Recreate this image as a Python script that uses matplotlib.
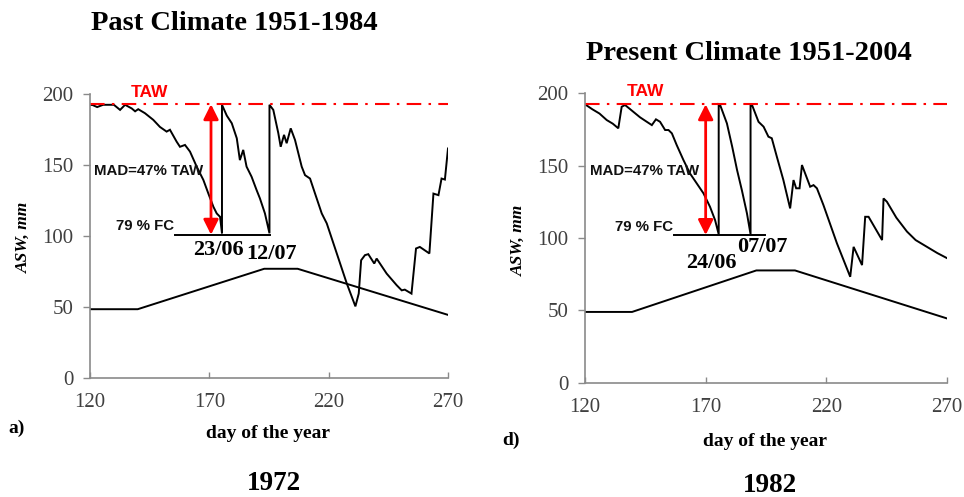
import matplotlib
matplotlib.use("Agg")
import matplotlib.pyplot as plt

# ---------------- data ----------------
past_day = [120, 121, 123, 125.5, 130, 132.6, 134.7, 137.5, 138.9, 140.2, 143, 146.5, 149.3,
            152.1, 153.5, 156.3, 157.7, 159.8, 161.9, 164.7, 167.5, 169.6, 171.7, 173.1, 174.5,
            175.3, 175.3, 177.3, 179.4, 181.5, 182.8, 184.2, 185.6, 187.7, 189.8, 191.2, 193.3,
            195.2, 195.2, 196.8, 198.9, 199.9, 201.3, 202.4, 204.1, 205.9, 208.7, 210.1, 212.2,
            214.3, 217.1, 219.2, 223.4, 227.6, 231.2, 232.6, 233.6, 235.2, 236.6, 239.1, 240.1,
            244.3, 248.5, 250.6, 251.9, 254.7, 256.6, 258.2, 262.2, 263.9, 266.0, 267.3, 268.7, 270]
past_asw = [192.5, 192.5, 191, 192.6, 192.6, 189, 192.6, 190, 188, 189.5, 186.7, 182, 177,
            173.7, 175, 166.6, 163, 164.3, 159.6, 149, 139.6, 130, 120.7, 116, 113.6,
            102, 192.6, 185, 179.6, 169, 153.6, 160.8, 149, 141.9, 132.5, 126.6, 116,
            102, 192.6, 189, 172.6, 163, 171.4, 165.5, 176, 167.8, 149, 143, 140.6,
            130, 116, 109, 87.8, 66.6, 50.5, 59.5, 83, 86.6, 87.3, 80.7, 84.2,
            73.6, 65.4, 61.8, 62.3, 59.5, 91.3, 92.4, 87.8, 130, 128.9, 140.6, 139.9, 161.8]
past_thr_day = [120, 140, 193, 207, 270]
past_thr = [48.5, 48.5, 77, 77, 44.5]

pres_day = [120, 123, 126, 129, 131.5, 133.8, 135.2, 136.6, 142.8, 145.6, 147.7, 149.4, 151.1,
            153.2, 154.6, 156, 158, 160.8, 163.5, 166.3, 169.1, 171.8, 173.9, 175.4,
            175.4, 176, 178.8, 181, 183, 185, 187.1, 188.6,
            188.6, 189.1, 191.9, 194, 196, 197.4, 199.5, 202.2, 205, 206.4, 207.5, 208.9,
            209.9, 213.3, 214.7, 216.1, 218.8, 224.4, 229.9, 231.3, 234.8, 236.1, 237.5,
            243.1, 243.7, 245.1, 249, 253.4, 257, 261.7, 266, 270]
pres_asw = [192.4, 189, 186, 181.5, 179, 175.8, 190.7, 191.9, 183.4, 180.3, 178, 182, 180.3,
            174.6, 174.6, 172.3, 164.2, 153.8, 144.6, 137.7, 130.8, 121.5, 112.3, 102.5,
            192.4, 191.9, 179.2, 163, 147, 133, 117, 102.5,
            192.4, 192.4, 180.3, 176.9, 170, 168.9, 156.1, 140, 120.4, 140, 134.3, 134.3,
            150.4, 135.4, 136.5, 134.3, 122.7, 96.2, 73.1, 93.8, 81.2, 114.6, 114.6,
            98.5, 127.3, 125, 114, 104.4, 98.5, 93.8, 89.5, 86]
pres_thr_day = [120, 139.5, 191, 207, 270]
pres_thr = [48.8, 48.8, 77.5, 77.5, 44.3]

taw_level = [193, 192.4]
fc_level = [101, 102]
fc_span = [(155.6, 195.4), (157, 194.7)]
arrow_day = [170.7, 170]
refill_labels = [("23/06", 173.7, 90), ("12/07", 196.1, 87.3)], [("24/06", 172.3, 82.3), ("07/07", 193.3, 93.5)]
titles = ["Past Climate 1951-1984", "Present Climate 1951-2004"]
years = ["1972", "1982"]
panel_tags = ["a)", "d)"]

# ---------------- figure ----------------
W, H = 964, 497
fig = plt.figure(figsize=(W / 100, H / 100), dpi=100)
SERIF = ["Liberation Serif", "DejaVu Serif"]
SANS = ["Liberation Sans", "DejaVu Sans"]

def fx(px):
    return px / W

def fy(py):
    return 1 - py / H

axes_px = [(90, 94.3, 448, 378), (585, 93.3, 947, 382.5)]
ylabel_px = [(24, 237), (519, 240)]
xlabel_px = [(268, 433), (765, 442)]
title_px = [(234, 23), (749, 53)]
year_px = [(274, 483), (770, 485)]
tag_px = [(8, 428), (502, 440)]

data = [(past_day, past_asw, past_thr_day, past_thr), (pres_day, pres_asw, pres_thr_day, pres_thr)]

for i in range(2):
    l, t, r, b = axes_px[i]
    ax = fig.add_axes([fx(l), fy(b), fx(r) - fx(l), fy(t) - fy(b)])
    d, v, td, tv = data[i]
    ax.plot(d, v, color="black", lw=1.4, solid_joinstyle="miter")
    ax.plot(td, tv, color="black", lw=1.4)
    ax.axhline(taw_level[i], color="red", lw=1.5, linestyle=(0, (7, 3.5, 1.2, 3.5)))
    ax.plot(fc_span[i], [fc_level[i]] * 2, color="black", lw=1.4)
    ax.annotate("", xy=(arrow_day[i], fc_level[i]), xytext=(arrow_day[i], taw_level[i]),
                arrowprops=dict(arrowstyle="<|-|>,head_length=0.9,head_width=0.45",
                                color="red", lw=2, shrinkA=0, shrinkB=0))
    ax.text(145, 201.5, "TAW", color="red", fontsize=12.5, fontweight="bold",
            family=SANS, ha="center", va="center", clip_on=False)
    ax.text(144.6, 146, "MAD=47% TAW", color="#111111", fontsize=10.8, fontweight="bold",
            family=SANS, ha="center", va="center")
    ax.text(fc_span[i][0] - 0.3, 107.5, "79 % FC", color="#111111", fontsize=10.8,
            fontweight="bold", family=SANS, ha="right", va="center")
    for lab, xd, yd in refill_labels[i]:
        ax.text(xd, yd, lab, fontsize=16, fontweight="bold", family=SERIF,
                ha="center", va="center")

    ax.set_xlim(120, 270)
    ax.set_ylim(0, 200)
    ax.set_xticks([120, 170, 220, 270])
    ax.set_yticks([0, 50, 100, 150, 200])
    for s in ["top", "right"]:
        ax.spines[s].set_visible(False)
    for s in ["left", "bottom"]:
        ax.spines[s].set_color("#8a8a8a")
        ax.spines[s].set_linewidth(1.2)
    ax.tick_params(axis="y", direction="out", length=5, width=1, color="#8a8a8a",
                   pad=7, labelsize=15, labelcolor="#404040")
    ax.tick_params(axis="x", direction="in", length=4, width=1, color="#8a8a8a",
                   pad=11, labelsize=15, labelcolor="#404040")
    for lab in ax.get_xticklabels() + ax.get_yticklabels():
        lab.set_family(SERIF)
    ax.set_facecolor("none")

    fig.text(fx(ylabel_px[i][0]), fy(ylabel_px[i][1]), "ASW, mm", rotation=90,
             fontsize=12.5, fontweight="bold", fontstyle="italic", family=SERIF,
             ha="center", va="center")
    fig.text(fx(xlabel_px[i][0]), fy(xlabel_px[i][1]), "day of the year",
             fontsize=14, fontweight="bold", family=SERIF, ha="center", va="center")
    fig.text(fx(title_px[i][0]), fy(title_px[i][1]), titles[i],
             fontsize=20.5, fontweight="bold", family=SERIF, ha="center", va="center")
    fig.text(fx(year_px[i][0]), fy(year_px[i][1]), years[i],
             fontsize=19.5, fontweight="bold", family=SERIF, ha="center", va="center")
    fig.text(fx(tag_px[i][0]), fy(tag_px[i][1]), panel_tags[i],
             fontsize=14, fontweight="bold", family=SERIF, ha="left", va="center")

fig.savefig("out.png", dpi=100)
